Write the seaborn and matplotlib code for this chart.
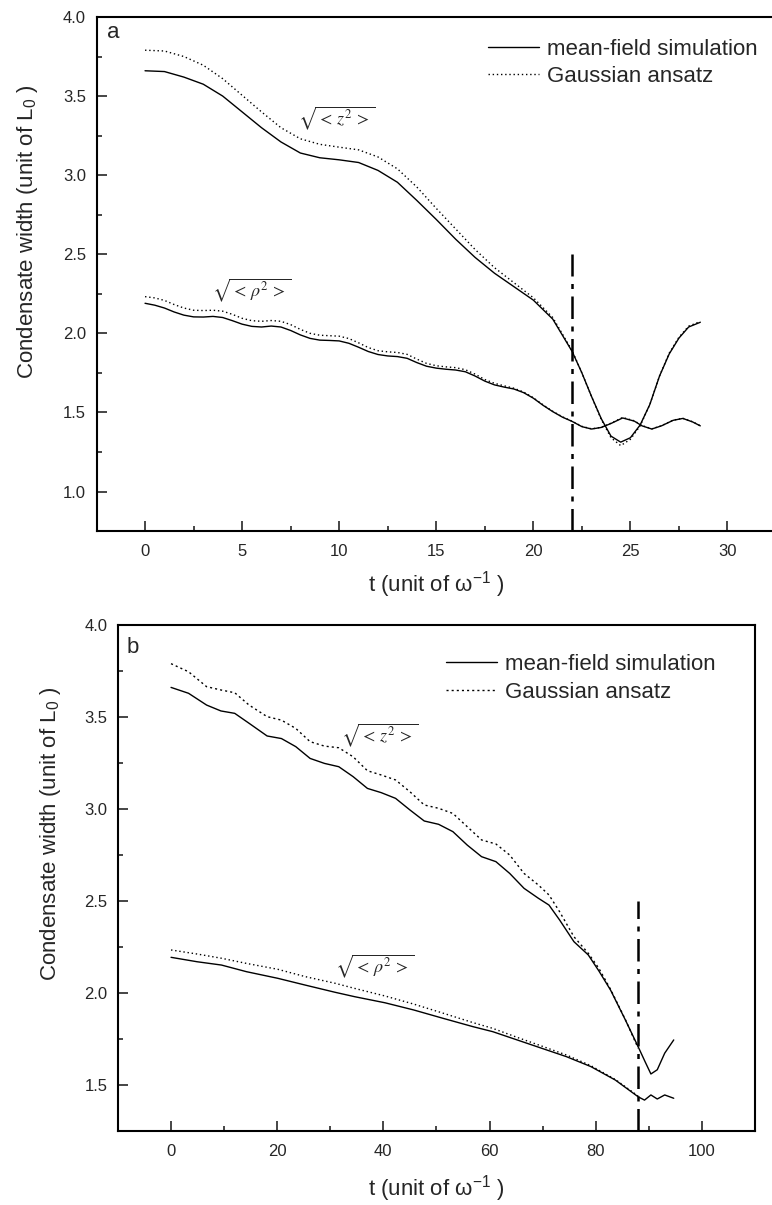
import numpy as np
import pandas as pd
import seaborn as sns
import matplotlib.pyplot as plt
from matplotlib.ticker import MultipleLocator

# === datos ===
# panel a : sqrt(<z^2>)
t_z_a = [0, 1, 2, 3, 4, 5, 6, 7, 8, 9, 10, 11, 12, 13, 14, 15, 16, 17, 18, 19,
         20, 21, 22, 22.5, 23, 23.5, 24, 24.5, 25, 25.5, 26, 26.5, 27, 27.5, 28, 28.6]
z_mf_a = [3.66, 3.655, 3.62, 3.575, 3.50, 3.40, 3.30, 3.21, 3.14, 3.11, 3.097, 3.08,
          3.03, 2.955, 2.84, 2.72, 2.595, 2.48, 2.38, 2.295, 2.21, 2.09, 1.885, 1.75,
          1.60, 1.46, 1.35, 1.312, 1.34, 1.42, 1.55, 1.73, 1.87, 1.97, 2.04, 2.07]
z_ga_a = [3.79, 3.785, 3.75, 3.695, 3.61, 3.505, 3.40, 3.30, 3.23, 3.195, 3.177, 3.16,
          3.115, 3.04, 2.925, 2.79, 2.66, 2.53, 2.415, 2.32, 2.225, 2.10, 1.89, 1.75,
          1.60, 1.455, 1.34, 1.29, 1.33, 1.415, 1.55, 1.73, 1.875, 1.975, 2.045, 2.075]

# panel a : sqrt(<rho^2>)
t_r_a = [0, 0.5, 1, 1.5, 2, 2.5, 3, 3.5, 4, 4.5, 5, 5.5, 6, 6.5, 7, 7.5, 8, 8.5, 9, 9.5,
         10, 10.5, 11, 11.5, 12, 12.5, 13, 13.5, 14, 14.5, 15, 15.5, 16, 16.5, 17, 17.5,
         18, 18.5, 19, 19.5, 20, 20.5, 21, 21.5, 22, 22.5, 23, 23.5, 24, 24.6, 25.2,
         25.6, 26.1, 26.6, 27.2, 27.7, 28.2, 28.6]
r_mf_a = [2.19, 2.178, 2.16, 2.135, 2.115, 2.104, 2.103, 2.107, 2.10, 2.08, 2.058, 2.044,
          2.04, 2.046, 2.04, 2.018, 1.99, 1.968, 1.957, 1.955, 1.952, 1.937, 1.912, 1.885,
          1.866, 1.857, 1.853, 1.842, 1.815, 1.792, 1.78, 1.773, 1.768, 1.757, 1.73, 1.698,
          1.674, 1.66, 1.648, 1.625, 1.59, 1.545, 1.505, 1.47, 1.443, 1.41, 1.395, 1.405,
          1.43, 1.465, 1.445, 1.415, 1.395, 1.415, 1.45, 1.462, 1.44, 1.415]
r_ga_a = [2.232, 2.224, 2.208, 2.182, 2.16, 2.146, 2.144, 2.146, 2.14, 2.12, 2.095, 2.08,
          2.076, 2.081, 2.076, 2.055, 2.025, 2.0, 1.988, 1.985, 1.982, 1.967, 1.94, 1.91,
          1.89, 1.883, 1.879, 1.867, 1.837, 1.81, 1.795, 1.788, 1.783, 1.77, 1.742, 1.708,
          1.684, 1.668, 1.653, 1.629, 1.593, 1.548, 1.507, 1.472, 1.444, 1.412, 1.396,
          1.406, 1.432, 1.468, 1.447, 1.417, 1.396, 1.416, 1.451, 1.463, 1.441, 1.416]

# panel b : sqrt(<z^2>)
t_z_mf_b = [0, 3.3, 6.7, 9.4, 12, 14.7, 18.1, 20.8, 23.5, 26.2, 28.9, 31.6, 34.3, 37,
            39.6, 42.3, 45, 47.7, 50.4, 53.1, 55.8, 58.5, 61.2, 63.8, 66.5, 69.2, 71.2,
            73.2, 75.9, 78.6, 80.6, 82.8, 85.6, 88, 89.3, 90.4, 91.6, 93, 94.7]
z_mf_b = [3.661, 3.629, 3.565, 3.533, 3.52, 3.466, 3.397, 3.383, 3.339, 3.275, 3.248,
          3.23, 3.176, 3.112, 3.089, 3.058, 2.995, 2.935, 2.917, 2.877, 2.804, 2.741,
          2.714, 2.65, 2.569, 2.515, 2.478, 2.397, 2.279, 2.207, 2.12, 2.016, 1.853,
          1.708, 1.627, 1.56, 1.583, 1.673, 1.745]
t_z_ga_b = [0, 3.3, 6.7, 9.4, 12, 14.7, 18.1, 20.8, 23.5, 26.2, 28.9, 31.6, 34.3, 37,
            39.6, 42.3, 45, 47.7, 50.4, 53.1, 55.8, 58.5, 61.2, 63.8, 66.5, 69.2, 71.2,
            73.2, 75.9, 78.6, 80.6, 82.8, 85.6, 88]
z_ga_b = [3.79, 3.746, 3.665, 3.647, 3.632, 3.565, 3.502, 3.483, 3.438, 3.366, 3.342,
          3.333, 3.284, 3.208, 3.185, 3.158, 3.094, 3.022, 3.004, 2.976, 2.904, 2.832,
          2.81, 2.75, 2.65, 2.587, 2.533, 2.442, 2.306, 2.216, 2.134, 2.02, 1.855, 1.70]

# panel b : sqrt(<rho^2>)
t_r_mf_b = [0, 4.9, 9.5, 14.2, 20.1, 25.3, 30.9, 34.6, 40.3, 45.7, 51.3, 56.9, 60.6,
            65.2, 69.8, 74.5, 79.1, 83.7, 88, 89.2, 90.4, 91.6, 93, 94.7]
r_mf_b = [2.194, 2.17, 2.152, 2.116, 2.08, 2.043, 2.004, 1.98, 1.947, 1.908, 1.862,
          1.817, 1.79, 1.745, 1.70, 1.654, 1.60, 1.527, 1.436, 1.418, 1.446, 1.424,
          1.446, 1.428]
t_r_ga_b = [0, 4.9, 9.5, 14.2, 20.1, 25.3, 30.9, 34.6, 40.3, 45.7, 51.3, 56.9, 60.6,
            65.2, 69.8, 74.5, 79.1, 83.7, 88]
r_ga_b = [2.234, 2.212, 2.189, 2.161, 2.129, 2.089, 2.053, 2.025, 1.984, 1.94, 1.89,
          1.839, 1.808, 1.759, 1.712, 1.663, 1.605, 1.53, 1.44]

# líneas verticales (tiempo de colapso)
t_col = [22, 88]
y_col_top = 2.5

# === estilo ===
sns.set_style("ticks")
plt.rcParams["font.family"] = ["Liberation Sans", "DejaVu Sans"]
plt.rcParams["mathtext.fontset"] = "custom"
plt.rcParams["mathtext.rm"] = "Liberation Sans"
plt.rcParams["mathtext.it"] = "Liberation Sans:italic"

DOT = (0, (1, 2))
DOT_B = (0, (1.5, 2.2))

fig = plt.figure(figsize=(7.72, 12.05), dpi=100)
ax_a = fig.add_axes([0.125, 0.5593, 0.8802, 0.4266])
ax_b = fig.add_axes([0.1528, 0.0614, 0.8251, 0.4199])


def curva(ax, t, v, ls, label=None):
    sns.lineplot(x=t, y=v, ax=ax, color="black", linewidth=1.0, linestyle=ls,
                 estimator=None, sort=False, label=label)


curva(ax_a, t_z_a, z_mf_a, "-", "mean-field simulation")
curva(ax_a, t_z_a, z_ga_a, DOT, "Gaussian ansatz")
curva(ax_a, t_r_a, r_mf_a, "-")
curva(ax_a, t_r_a, r_ga_a, DOT)

curva(ax_b, t_z_mf_b, z_mf_b, "-", "mean-field simulation")
curva(ax_b, t_z_ga_b, z_ga_b, DOT_B, "Gaussian ansatz")
curva(ax_b, t_r_mf_b, r_mf_b, "-")
curva(ax_b, t_r_ga_b, r_ga_b, DOT)

configs = [
    (ax_a, (-2.5, 32.5), (0.75, 4.0), 5, 2.5, t_col[0], "a", 0.969, (0.576, 0.958),
     (9.9, 3.36), (5.5, 2.272), -0.074, (-0.083, 0.583), DOT),
    (ax_b, (-10, 110), (1.25, 4.0), 20, 10, t_col[1], "b", 0.955, (0.515, 0.943),
     (39.4, 3.40), (38.4, 2.147), -0.083, (-0.086, 0.587), DOT_B),
]

for (ax, xl, yl, xmaj, xmin, tc, letra, letra_y, leg_pos, pos_z, pos_r,
     xlab_y, ylab_xy, ls_leg) in configs:
    ax.set_xlim(*xl)
    ax.set_ylim(*yl)
    ax.vlines(tc, yl[0], y_col_top, colors="black", linewidth=1.8,
              linestyles=(0, (9, 3, 2, 3)))
    ax.xaxis.set_major_locator(MultipleLocator(xmaj))
    ax.xaxis.set_minor_locator(MultipleLocator(xmin))
    ax.yaxis.set_major_locator(MultipleLocator(0.5))
    ax.yaxis.set_minor_locator(MultipleLocator(0.25))
    ax.tick_params(which="major", direction="in", length=7.2, width=1.2,
                   labelsize=12, top=False, right=False)
    ax.tick_params(which="minor", direction="in", length=3.6, width=1.2,
                   top=False, right=False)
    ax.tick_params(axis="x", which="major", pad=9)
    ax.tick_params(axis="y", which="major", pad=7.5)
    for sp in ax.spines.values():
        sp.set_linewidth(1.5)
        sp.set_color("black")

    ax.set_xlabel(r"t (unit of ω$^{\mathrm{-1}}$ )", fontsize=16)
    ax.set_ylabel(r"Condensate width (unit of L$_{\mathrm{0}}$ )", fontsize=16)
    ax.xaxis.set_label_coords(0.5, xlab_y)
    ax.yaxis.set_label_coords(*ylab_xy)

    ax.text(0.024, letra_y, letra, transform=ax.transAxes,
            fontsize=16, ha="center", va="center")
    ax.text(*pos_z, r"$\sqrt{<\,z^{2}\,>}$", math_fontfamily="stix",
            fontsize=13, ha="center", va="center")
    ax.text(*pos_r, r"$\sqrt{<\,\rho^{2}\,>}$", math_fontfamily="stix",
            fontsize=13, ha="center", va="center")

    handles, labels = ax.get_legend_handles_labels()
    handles[1].set_linestyle(ls_leg)
    ax.legend(handles, labels, loc="upper left", bbox_to_anchor=leg_pos,
              frameon=False, fontsize=16, handlelength=2.3, handletextpad=0.35,
              labelspacing=0.3, borderpad=0, borderaxespad=0)

fig.savefig("out.png", dpi=100)
